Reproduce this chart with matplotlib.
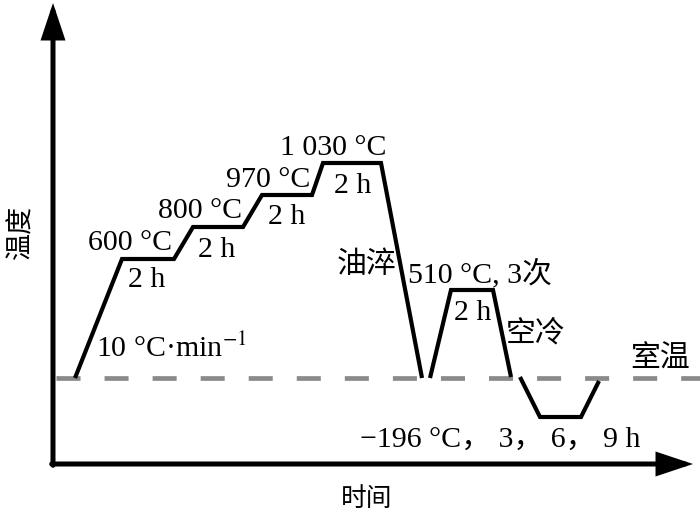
import matplotlib
matplotlib.use("Agg")
import matplotlib.pyplot as plt

plt.rcParams['font.family'] = ['Liberation Serif', 'Noto Sans CJK SC']
plt.rcParams['mathtext.fontset'] = 'stix'
plt.rcParams['lines.scale_dashes'] = False

# schematic process data (time units, temperature level units)
quench_time = [75, 122, 174, 193, 243, 262, 312, 323, 381, 422]
quench_temp = [142, 261, 261, 293, 293, 325, 325, 357, 357, 142]
temper_time = [430, 451, 493, 511]
temper_temp = [142, 230, 230, 143]
cryo_time = [520, 540, 581, 599]
cryo_temp = [143, 103, 103, 139]
room_level = 142
room_span = [56, 700]

labels_600 = ["600 °C", "2 h"]
labels_800 = ["800 °C", "2 h"]
labels_970 = ["970 °C", "2 h"]
labels_1030 = ["1 030 °C", "2 h"]

fig = plt.figure(figsize=(7, 5.2), dpi=100)
ax = fig.add_axes([0, 0, 1, 1])
ax.set_xlim(0, 700)
ax.set_ylim(0, 520)
ax.axis('off')

# room temperature dashed line
ax.plot(room_span, [room_level, room_level], color='#8a8a8a', lw=3.4,
        dashes=(17.3, 17.3), solid_capstyle='butt', dash_capstyle='butt')

lk = dict(color='black', lw=3.0, solid_joinstyle='miter', solid_capstyle='butt')
ax.plot(quench_time, quench_temp, **lk)
ax.plot(temper_time, temper_temp, **lk)
ax.plot(cryo_time, cryo_temp, **lk)

# axes with arrows
ap = dict(arrowstyle='-|>,head_length=1.95,head_width=0.65', lw=3.6, color='black',
          mutation_scale=10, shrinkA=0, shrinkB=0, joinstyle='miter')
ax.annotate('', xy=(53, 517), xytext=(53, 54.7), arrowprops=ap)
ax.annotate('', xy=(693, 56), xytext=(51.7, 56), arrowprops=ap)

fs = 21.5
tk = dict(fontsize=fs, ha='center', va='baseline', color='black')
ax.text(130, 520 - 250, labels_600[0], **tk)
ax.text(147, 520 - 287, labels_600[1], **tk)
ax.text(200, 520 - 218, labels_800[0], **tk)
ax.text(217, 520 - 257, labels_800[1], **tk)
ax.text(268, 520 - 187, labels_970[0], **tk)
ax.text(287, 520 - 224, labels_970[1], **tk)
ax.text(333, 520 - 155, labels_1030[0], **tk)
ax.text(353, 520 - 193, labels_1030[1], **tk)
ax.text(480, 520 - 282, "510 °C, 3次", **tk)
ax.text(473, 520 - 320, "2 h", **tk)
ax.text(171, 520 - 357, "10 °C·min$^{-1}$", **tk)
ax.text(500, 520 - 447, "−196 °C， 3， 6， 9 h", **tk)

ck = dict(fontsize=21.5, ha='center', va='center', color='black')
ax.text(367, 520 - 265, "油淬", **ck)
ax.text(536, 520 - 334, "空冷", **ck)
ax.text(660, 520 - 359, "室温", **ck)
ax.text(367, 520 - 499, "时间", fontsize=18.5, ha='center', va='center')
ax.text(22, 520 - 233, "温度", rotation=90, fontsize=19.5, ha='center', va='center')

fig.savefig("out.png", dpi=100)
